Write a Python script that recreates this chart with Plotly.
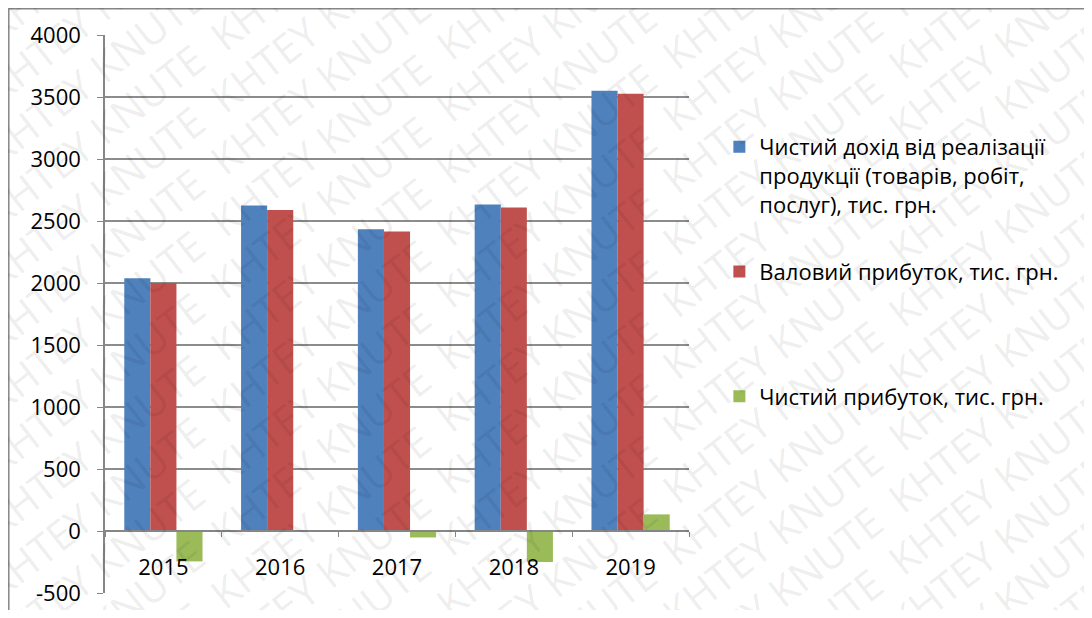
import plotly.graph_objects as go

years = ["2015", "2016", "2017", "2018", "2019"]
net_revenue = [2038, 2626, 2433, 2634, 3551]
gross_profit = [2000, 2588, 2415, 2608, 3527]
net_profit = [-245, 5, -52, -250, 134]

series_names = [
    "Чистий дохід від реалізації<br>продукції (товарів, робіт,<br>послуг), тис. грн.",
    "Валовий прибуток, тис. грн.<br> <br> ",
    "Чистий прибуток, тис. грн.",
]
series_colors = ["#4F81BD", "#C0504D", "#9BBB59"]

y_min, y_max, y_step = -500, 4000, 500
y_ticks = list(range(y_min, y_max + 1, y_step))

# the page body adds an 8px offset, so the figure is sized to fit inside it
OFF = 8
W, H = 1092 - 2 * OFF, 618 - 2 * OFF
L, R, T, B = 105 - OFF, 1092 - 689 - OFF, 35 - OFF, 618 - 593 - OFF
FONT = "Open Sans"
AXIS_GRAY = "#868686"


def px_to_paper(px, py):
    # screen pixel -> paper coords
    fx, fy = px - OFF, py - OFF
    return (fx - L) / (W - L - R), (H - B - fy) / (H - T - B)


fig = go.Figure()
for i, (name, vals, color) in enumerate(zip(series_names, [net_revenue, gross_profit, net_profit], series_colors)):
    fig.add_trace(
        go.Bar(
            x=years,
            y=vals,
            name=name,
            marker=dict(color=color, line=dict(width=0)),
            legendgroup=f"g{i}",
        )
    )

# frame around the chart
fx0, fy0 = px_to_paper(8.8, 8.8)
fx1, fy1 = px_to_paper(1092 + 20, 618 + 20)
shapes = [
    dict(type="rect", xref="paper", yref="paper", x0=fx0, y0=fy1, x1=fx1, y1=fy0,
         line=dict(color=AXIS_GRAY, width=1.5), fillcolor="rgba(0,0,0,0)", layer="below")
]

# watermark
annotations = []
wm_text = "  ".join(["KHTEY KNUTE"] * 9)
for k in range(-8, 18):
    cy = 30 + k * 62
    ax_, ay_ = px_to_paper(546, cy)
    annotations.append(
        dict(
            x=ax_, y=ay_, xref="paper", yref="paper", text=wm_text, showarrow=False,
            xanchor="center", yanchor="middle",
            textangle=-38, font=dict(family="Open Sans", size=41, color="rgba(0,0,0,0.085)"),
        )
    )

fig.update_layout(
    width=W,
    height=H,
    template="plotly_white",
    paper_bgcolor="white",
    plot_bgcolor="white",
    margin=dict(l=L, r=R, t=T, b=B, autoexpand=False),
    font=dict(family=FONT, size=22, color="#000000"),
    barmode="group",
    bargap=0.33,
    bargroupgap=0,
    showlegend=True,
    legend=dict(
        x=1.052,
        y=0.837,
        xanchor="left",
        yanchor="top",
        font=dict(family=FONT, size=22, color="#000000"),
        traceorder="grouped",
        tracegroupgap=36,
        valign="top",
        bgcolor="rgba(0,0,0,0)",
    ),
    xaxis=dict(
        type="category",
        anchor="free",
        position=(0 - y_min) / (y_max - y_min),
        showline=True,
        linecolor=AXIS_GRAY,
        linewidth=1.5,
        ticks="outside",
        ticklen=5,
        tickcolor=AXIS_GRAY,
        tickson="boundaries",
        showgrid=False,
        ticklabelstandoff=17,
        tickfont=dict(family=FONT, size=22),
    ),
    yaxis=dict(
        range=[y_min, y_max],
        tickmode="array",
        tickvals=y_ticks,
        ticktext=[str(v) for v in y_ticks],
        showline=True,
        linecolor=AXIS_GRAY,
        linewidth=1.5,
        ticks="outside",
        ticklen=6,
        tickcolor=AXIS_GRAY,
        showgrid=True,
        gridcolor="#8c8c8c",
        gridwidth=1.5,
        zeroline=False,
        ticklabelstandoff=12,
        tickfont=dict(family=FONT, size=22),
    ),
    shapes=shapes,
    annotations=annotations,
)

fig.write_html("out.html")
